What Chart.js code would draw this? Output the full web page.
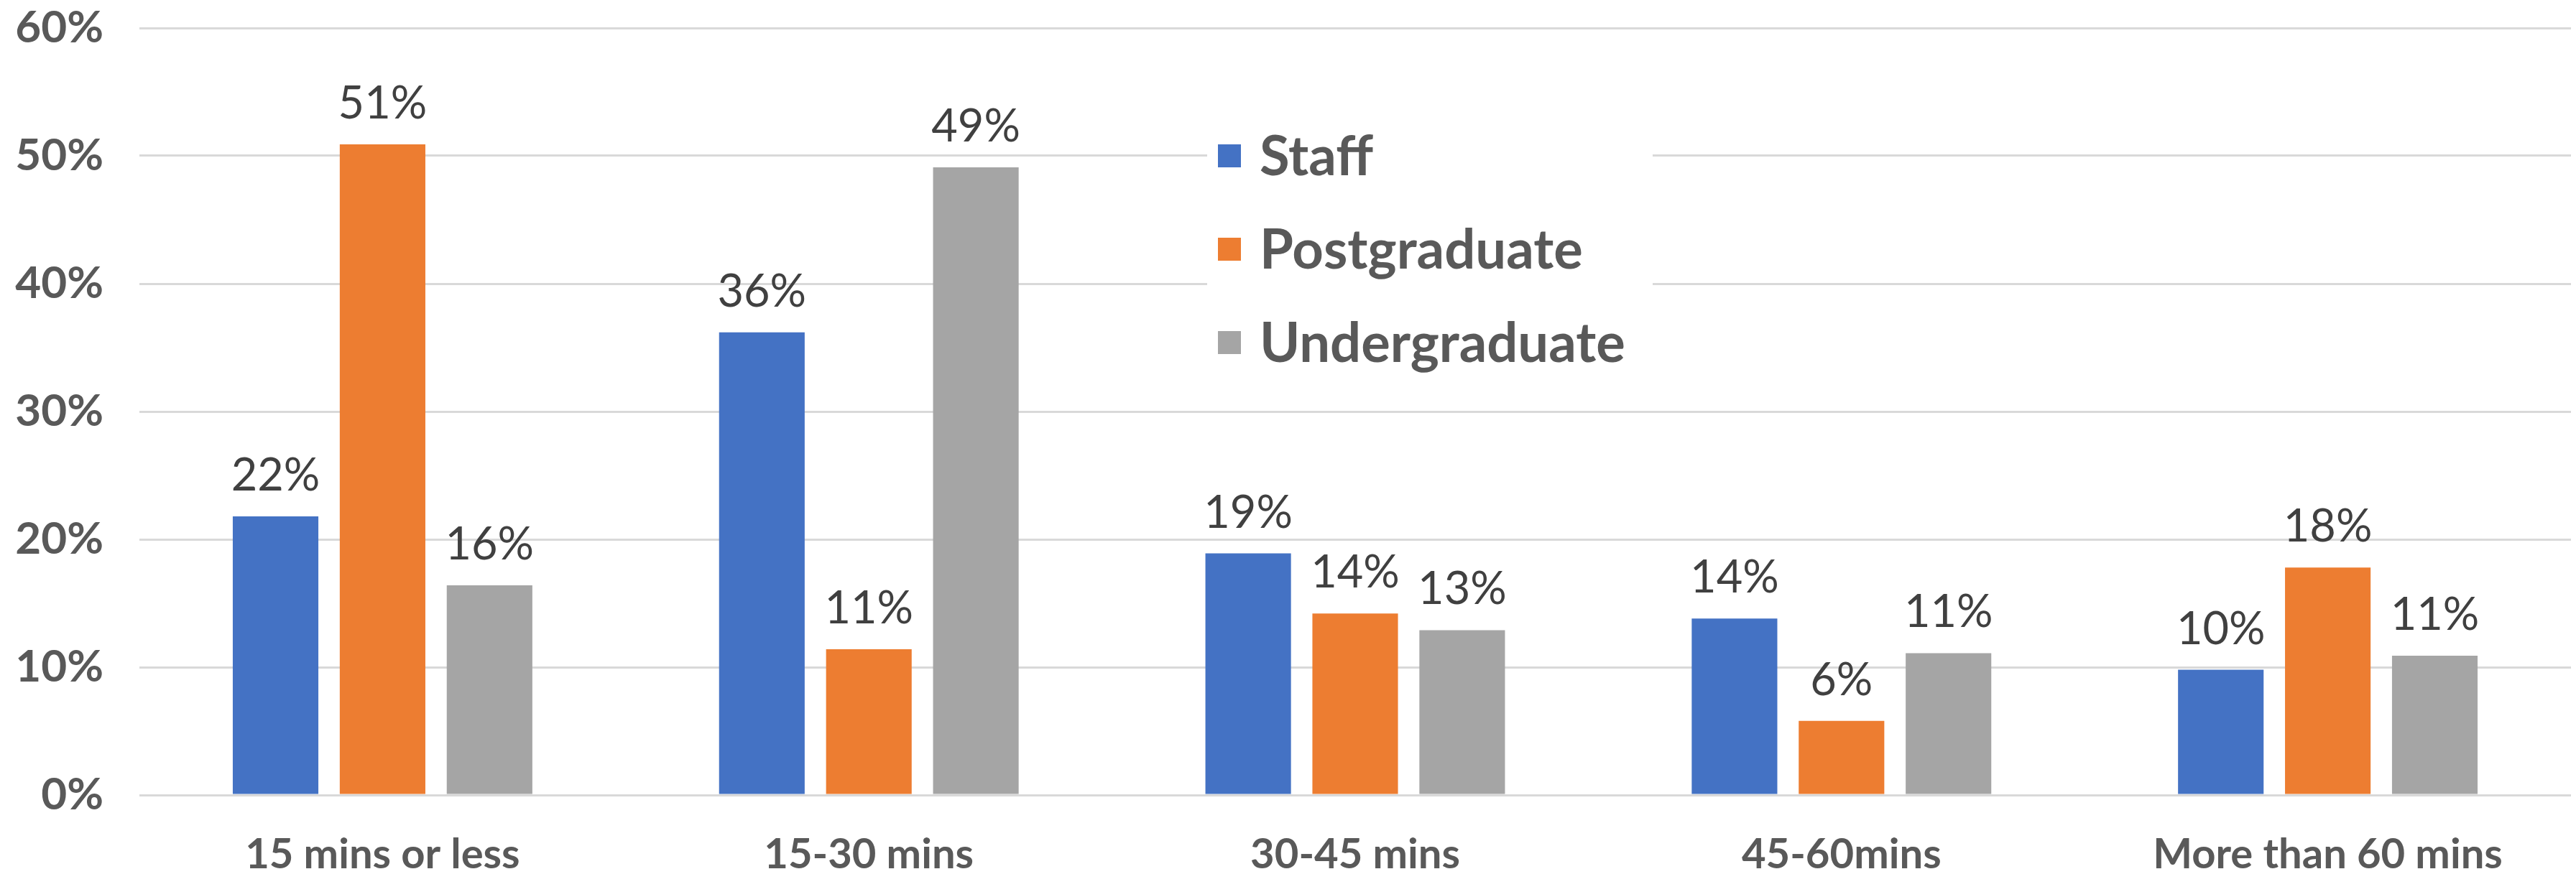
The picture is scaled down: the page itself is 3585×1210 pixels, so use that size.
<!DOCTYPE html>
<html>
<head>
<meta charset="utf-8">
<script src="https://cdn.jsdelivr.net/npm/chart.js@4.4.0/dist/chart.umd.min.js"></script>
<style>
  html, body { margin: 0; padding: 0; background: #fff; }
  #wrap { width: 3585px; height: 1210px; position: relative; }
</style>
</head>
<body>
<div id="wrap"><canvas id="graficoTempo"></canvas></div>
<script>
// travel time groups and the share of each group per population
const categorias = ['15 mins or less', '15-30 mins', '30-45 mins', '45-60mins', 'More than 60 mins'];
const staff = [21.8, 36.2, 18.9, 13.8, 9.8];
const postgraduate = [50.9, 11.4, 14.2, 5.8, 17.8];
const undergraduate = [16.4, 49.1, 12.9, 11.1, 10.9];
const yTicks = [0, 10, 20, 30, 40, 50, 60];

const cores = ['#4472C4', '#ED7D31', '#A5A5A5'];
const fonte = 'Lato, "Open Sans", sans-serif';

// value labels above each bar
const rotulosPlugin = {
    id: 'rotulos',
    afterDatasetsDraw(chart) {
        const ctx = chart.ctx;
        ctx.save();
        ctx.font = '63px ' + fonte;
        ctx.fillStyle = '#404040';
        ctx.textAlign = 'center';
        ctx.textBaseline = 'alphabetic';
        chart.data.datasets.forEach((ds, i) => {
            chart.getDatasetMeta(i).data.forEach((bar, j) => {
                ctx.fillText(Math.round(ds.data[j]) + '%', bar.x, bar.y - 36);
            });
        });
        ctx.restore();
    }
};

// legend sits inside the plot, over a white box that hides the grid
const legendaPlugin = {
    id: 'legendaInterna',
    afterDatasetsDraw(chart) {
        const ctx = chart.ctx;
        ctx.save();
        ctx.fillStyle = '#fff';
        ctx.fillRect(1680, 150, 620, 390);
        ctx.font = 'bold 76px ' + fonte;
        ctx.textBaseline = 'middle';
        ctx.textAlign = 'left';
        chart.data.datasets.forEach((ds, i) => {
            const y = 217 + i * 130;
            ctx.fillStyle = ds.backgroundColor;
            ctx.fillRect(1695, y - 16, 32, 32);
            ctx.fillStyle = '#595959';
            ctx.fillText(ds.label, 1753, y + 2);
        });
        ctx.restore();
    }
};

const ctx = document.getElementById('graficoTempo').getContext('2d');
new Chart(ctx, {
    type: 'bar',
    data: {
        labels: categorias,
        datasets: [
            { label: 'Staff', data: staff, backgroundColor: cores[0] },
            { label: 'Postgraduate', data: postgraduate, backgroundColor: cores[1] },
            { label: 'Undergraduate', data: undergraduate, backgroundColor: cores[2] }
        ]
    },
    options: {
        responsive: true,
        maintainAspectRatio: false,
        animation: false,
        layout: { padding: { top: 39, right: 7, left: 0, bottom: 0 } },
        datasets: { bar: { categoryPercentage: 0.66, barPercentage: 0.8 } },
        scales: {
            x: {
                grid: { display: false },
                border: { display: false },
                ticks: {
                    color: '#595959',
                    font: { family: fonte, size: 58, weight: 'bold' },
                    maxRotation: 0,
                    autoSkip: false,
                    padding: 40
                },
                afterFit(scale) { scale.height = 103; }
            },
            y: {
                min: yTicks[0],
                max: yTicks[yTicks.length - 1],
                afterBuildTicks(scale) { scale.ticks = yTicks.map(v => ({ value: v })); },
                grid: { color: '#D9D9D9', lineWidth: 3, drawTicks: false },
                border: { display: false },
                ticks: {
                    color: '#595959',
                    font: { family: fonte, size: 62, weight: 'bold' },
                    padding: 50,
                    callback: v => v + '%'
                },
                afterFit(scale) {
                    scale.width = 194;
                    scale.paddingTop = 0;
                    scale.paddingBottom = 0;
                }
            }
        },
        plugins: {
            legend: { display: false },
            tooltip: { enabled: false }
        }
    },
    plugins: [rotulosPlugin, legendaPlugin]
});
</script>
</body>
</html>
